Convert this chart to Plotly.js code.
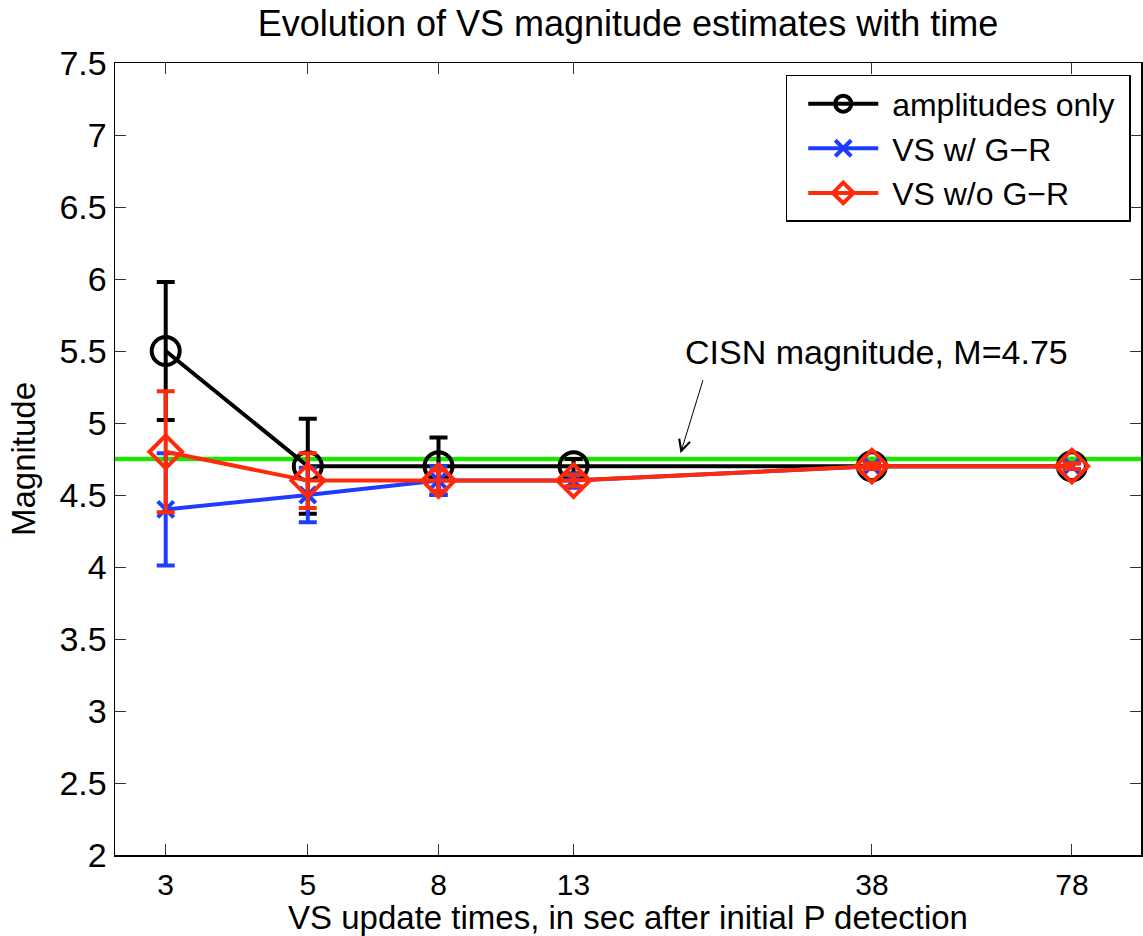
<!DOCTYPE html>
<html>
<head>
<meta charset="utf-8">
<script src="https://cdn.plot.ly/plotly-3.0.1.min.js"></script>
<style>
  html, body { margin: 0; padding: 0; background: #fff; }
  #chart { width: 1143px; height: 936px; }
</style>
</head>
<body>
<div id="chart"></div>
<script>
// ---- data ----
const times = [3, 5, 8, 13, 38, 78];            // VS update times (s)
const tickLabels = ['3', '5', '8', '13', '38', '78'];
const ampOnly = [5.5, 4.7, 4.7, 4.7, 4.7, 4.7];
const ampOnlyErr = [0.48, 0.33, 0.2, 0.05, 0.02, 0.02];
const vsWithGR = [4.4, 4.5, 4.6, 4.6, 4.7, 4.7];
const vsWithGRErr = [0.39, 0.19, 0.1, 0.05, 0.02, 0.02];
const vsWithoutGR = [4.8, 4.6, 4.6, 4.6, 4.7, 4.7];
const vsWithoutGRErr = [0.42, 0.19, 0.07, 0.04, 0.02, 0.02];
const cisnMagnitude = 4.75;
const yTicks = [2, 2.5, 3, 3.5, 4, 4.5, 5, 5.5, 6, 6.5, 7, 7.5];

const FONT = 'Liberation Sans, Arial, Helvetica, sans-serif';
const BLACK = '#000000', BLUE = '#1e3cff', RED = '#ff2a0a', GREEN = '#1ee600';
const NB = '\u00a0';

const traces = [
  {
    name: NB + 'amplitudes only' + NB, x: times, y: ampOnly, type: 'scatter', mode: 'lines+markers',
    line: { color: BLACK, width: 4 },
    marker: { symbol: 'circle-open', size: 28, color: BLACK, line: { width: 4, color: BLACK } },
    error_y: { type: 'data', array: ampOnlyErr, visible: true, color: BLACK, thickness: 4, width: 9 },
    cliponaxis: false
  },
  {
    name: NB + 'VS w/ G\u2212R', x: times, y: vsWithGR, type: 'scatter', mode: 'lines+markers',
    line: { color: BLUE, width: 4 },
    marker: { symbol: 'x-thin-open', size: 16, color: BLUE, line: { width: 4, color: BLUE } },
    error_y: { type: 'data', array: vsWithGRErr, visible: true, color: BLUE, thickness: 4, width: 9 },
    cliponaxis: false
  },
  {
    name: NB + 'VS w/o G\u2212R', x: times, y: vsWithoutGR, type: 'scatter', mode: 'lines+markers',
    line: { color: RED, width: 4 },
    marker: { symbol: 'diamond-open', size: 25, color: RED, line: { width: 4, color: RED } },
    error_y: { type: 'data', array: vsWithoutGRErr, visible: true, color: RED, thickness: 4, width: 9 },
    cliponaxis: false
  }
];

const layout = {
  width: 1143, height: 936,
  margin: { l: 115, r: 2, t: 63, b: 81 },
  paper_bgcolor: '#ffffff', plot_bgcolor: '#ffffff',
  font: { family: FONT, size: 32, color: '#000' },
  title: {
    text: 'Evolution of VS magnitude estimates with time',
    font: { family: FONT, size: 36, color: '#000' },
    x: 0.5, xref: 'paper', y: 0.975, yref: 'container', yanchor: 'middle'
  },
  xaxis: {
    type: 'log', range: [Math.log10(2.5), 2],
    tickmode: 'array', tickvals: times, ticktext: tickLabels,
    ticks: 'inside', ticklen: 11, tickwidth: 1, tickcolor: '#333',
    mirror: 'ticks', showline: true, linecolor: '#000', linewidth: 1.5,
    showgrid: false, zeroline: false,
    tickfont: { family: FONT, size: 30 },
    ticklabelstandoff: 2,
    title: { text: 'VS update times, in sec after initial P detection', font: { family: FONT, size: 33 }, standoff: 7 }
  },
  yaxis: {
    range: [2, 7.5], tickmode: 'array', tickvals: yTicks,
    ticks: 'inside', ticklen: 11, tickwidth: 1, tickcolor: '#333',
    mirror: 'ticks', showline: true, linecolor: '#000', linewidth: 1.5,
    showgrid: false, zeroline: false,
    tickfont: { family: FONT, size: 34 },
    title: { text: 'Magnitude', font: { family: FONT, size: 33 }, standoff: 14 }
  },
  showlegend: true,
  legend: {
    x: 0.990, xanchor: 'right', y: 0.985, yanchor: 'top',
    bgcolor: '#ffffff', bordercolor: '#000', borderwidth: 1.5,
    font: { family: FONT, size: 32 }, itemwidth: 70, indentation: 16, tracegroupgap: 0
  },
  shapes: [
    { type: 'line', xref: 'paper', x0: 0, x1: 1, yref: 'y', y0: cisnMagnitude, y1: cisnMagnitude,
      line: { color: GREEN, width: 4.5 }, layer: 'below' }
  ],
  annotations: [
    { xref: 'x', yref: 'y', x: Math.log10(19.1), y: 4.79, text: ' ', font: { size: 1 }, showarrow: true,
      ax: 23, ay: -75, arrowhead: 5, arrowsize: 2.2, arrowwidth: 1, arrowcolor: '#000', standoff: 0, startstandoff: 0 },
    { xref: 'x', yref: 'y', x: Math.log10(38.7), y: 5.49, text: 'CISN magnitude, M=' + cisnMagnitude,
      showarrow: false, font: { family: FONT, size: 34, color: '#000' }, xanchor: 'center', yanchor: 'middle' }
  ]
};

Plotly.newPlot('chart', traces, layout, { displayModeBar: false, staticPlot: true });
</script>
</body>
</html>
